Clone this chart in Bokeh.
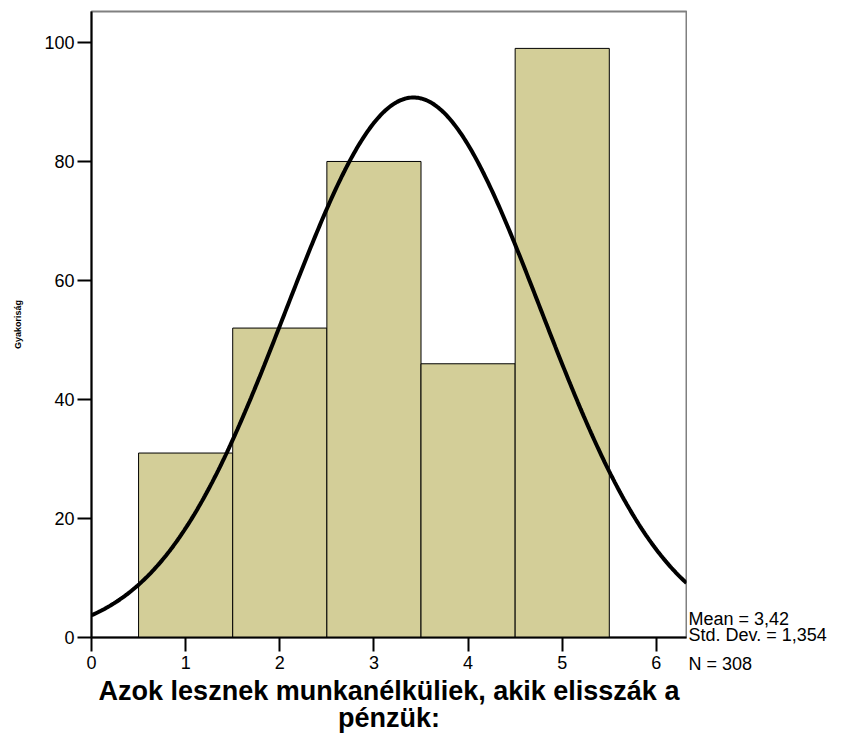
import numpy as np
from bokeh.plotting import figure
from bokeh.layouts import row
from bokeh.models import Range1d, FixedTicker, ColumnDataSource
from bokeh.core.properties import value
from bokeh.embed import file_html
from bokeh.resources import INLINE

categories = [1, 2, 3, 4, 5]
counts = [31, 52, 80, 46, 99]
mean_val = 3.42
std_val = 1.354
n_val = 308
x_ticks = [0, 1, 2, 3, 4, 5, 6]
y_ticks = [0, 20, 40, 60, 80, 100]
stats_lines = ["Mean = 3,42", "Std. Dev. = 1,354", "N = 308"]
x_title = "Azok lesznek munkanélküliek, akik elisszák a\npénzük:"
y_title = "Gyakoriság"

H = 735
p = figure(frame_width=595, frame_height=626, output_backend="svg", toolbar_location=None,
           x_range=Range1d(0, 6.32), y_range=Range1d(0, 105.2),
           min_border_left=91, min_border_right=1, min_border_top=11, min_border_bottom=H - 637)
p.background_fill_color = "white"
p.border_fill_color = "white"
p.outline_line_color = "#808080"
p.outline_line_width = 2
p.grid.visible = False

src = ColumnDataSource(dict(x=categories, top=counts))
p.vbar(x="x", top="top", bottom=0, width=1.0, source=src,
       fill_color="#D3CE98", line_color="black", line_width=1)

xs = np.linspace(0, 6.32, 400)
ys = n_val * 1.0 / (std_val * np.sqrt(2 * np.pi)) * np.exp(-0.5 * ((xs - mean_val) / std_val) ** 2)
p.line(xs, ys, line_color="black", line_width=4)

for ax in (p.xaxis[0], p.yaxis[0]):
    ax.axis_line_color = "black"
    ax.axis_line_width = 2
    ax.major_tick_line_color = "black"
    ax.major_tick_line_width = 2
    ax.major_tick_in = 0
    ax.major_tick_out = 14
    ax.minor_tick_line_color = None
    ax.major_label_text_font = "Liberation Sans"
    ax.major_label_text_font_size = "18px"
    ax.major_label_text_color = "black"

p.xaxis[0].ticker = FixedTicker(ticks=x_ticks)
p.yaxis[0].ticker = FixedTicker(ticks=y_ticks)
p.xaxis[0].major_label_standoff = 4
p.yaxis[0].major_label_standoff = 3

p.xaxis[0].axis_label = x_title
p.xaxis[0].axis_label_text_font = "Liberation Sans"
p.xaxis[0].axis_label_text_font_style = "bold"
p.xaxis[0].axis_label_text_font_size = "27px"
p.xaxis[0].axis_label_text_line_height = 0.92
p.xaxis[0].axis_label_text_color = "black"
p.xaxis[0].axis_label_standoff = 4

p.yaxis[0].axis_label = y_title
p.yaxis[0].axis_label_text_font = "Liberation Sans"
p.yaxis[0].axis_label_text_font_style = "bold"
p.yaxis[0].axis_label_text_font_size = "9px"
p.yaxis[0].axis_label_text_color = "black"
p.yaxis[0].axis_label_standoff = 18

# side panel for the statistics text (pixel-like coordinates, frame = whole canvas)
W2 = 143
SHIFT = 16
p2 = figure(frame_width=W2, frame_height=H, output_backend="svg", toolbar_location=None,
            x_range=Range1d(0, W2), y_range=Range1d(0, H),
            x_axis_location=None, y_axis_location=None, title=None,
            min_border=0, min_border_left=0, min_border_right=0,
            min_border_top=0, min_border_bottom=0)
p2.outline_line_color = None
p2.grid.visible = False
p2.background_fill_color = "white"
p2.border_fill_color = "white"
stat_src = ColumnDataSource(dict(x=[1, 1, 1],
                                 y=[H - 623 + SHIFT, H - 639 + SHIFT, H - 668 + SHIFT],
                                 t=stats_lines))
p2.text(x="x", y="y", text="t", source=stat_src, text_font=value("Liberation Sans"),
        text_font_size="18px", text_baseline="alphabetic", text_align="left", text_color="black")

layout = row(p, p2, spacing=0)
open("out.html", "w").write(file_html(layout, INLINE))
